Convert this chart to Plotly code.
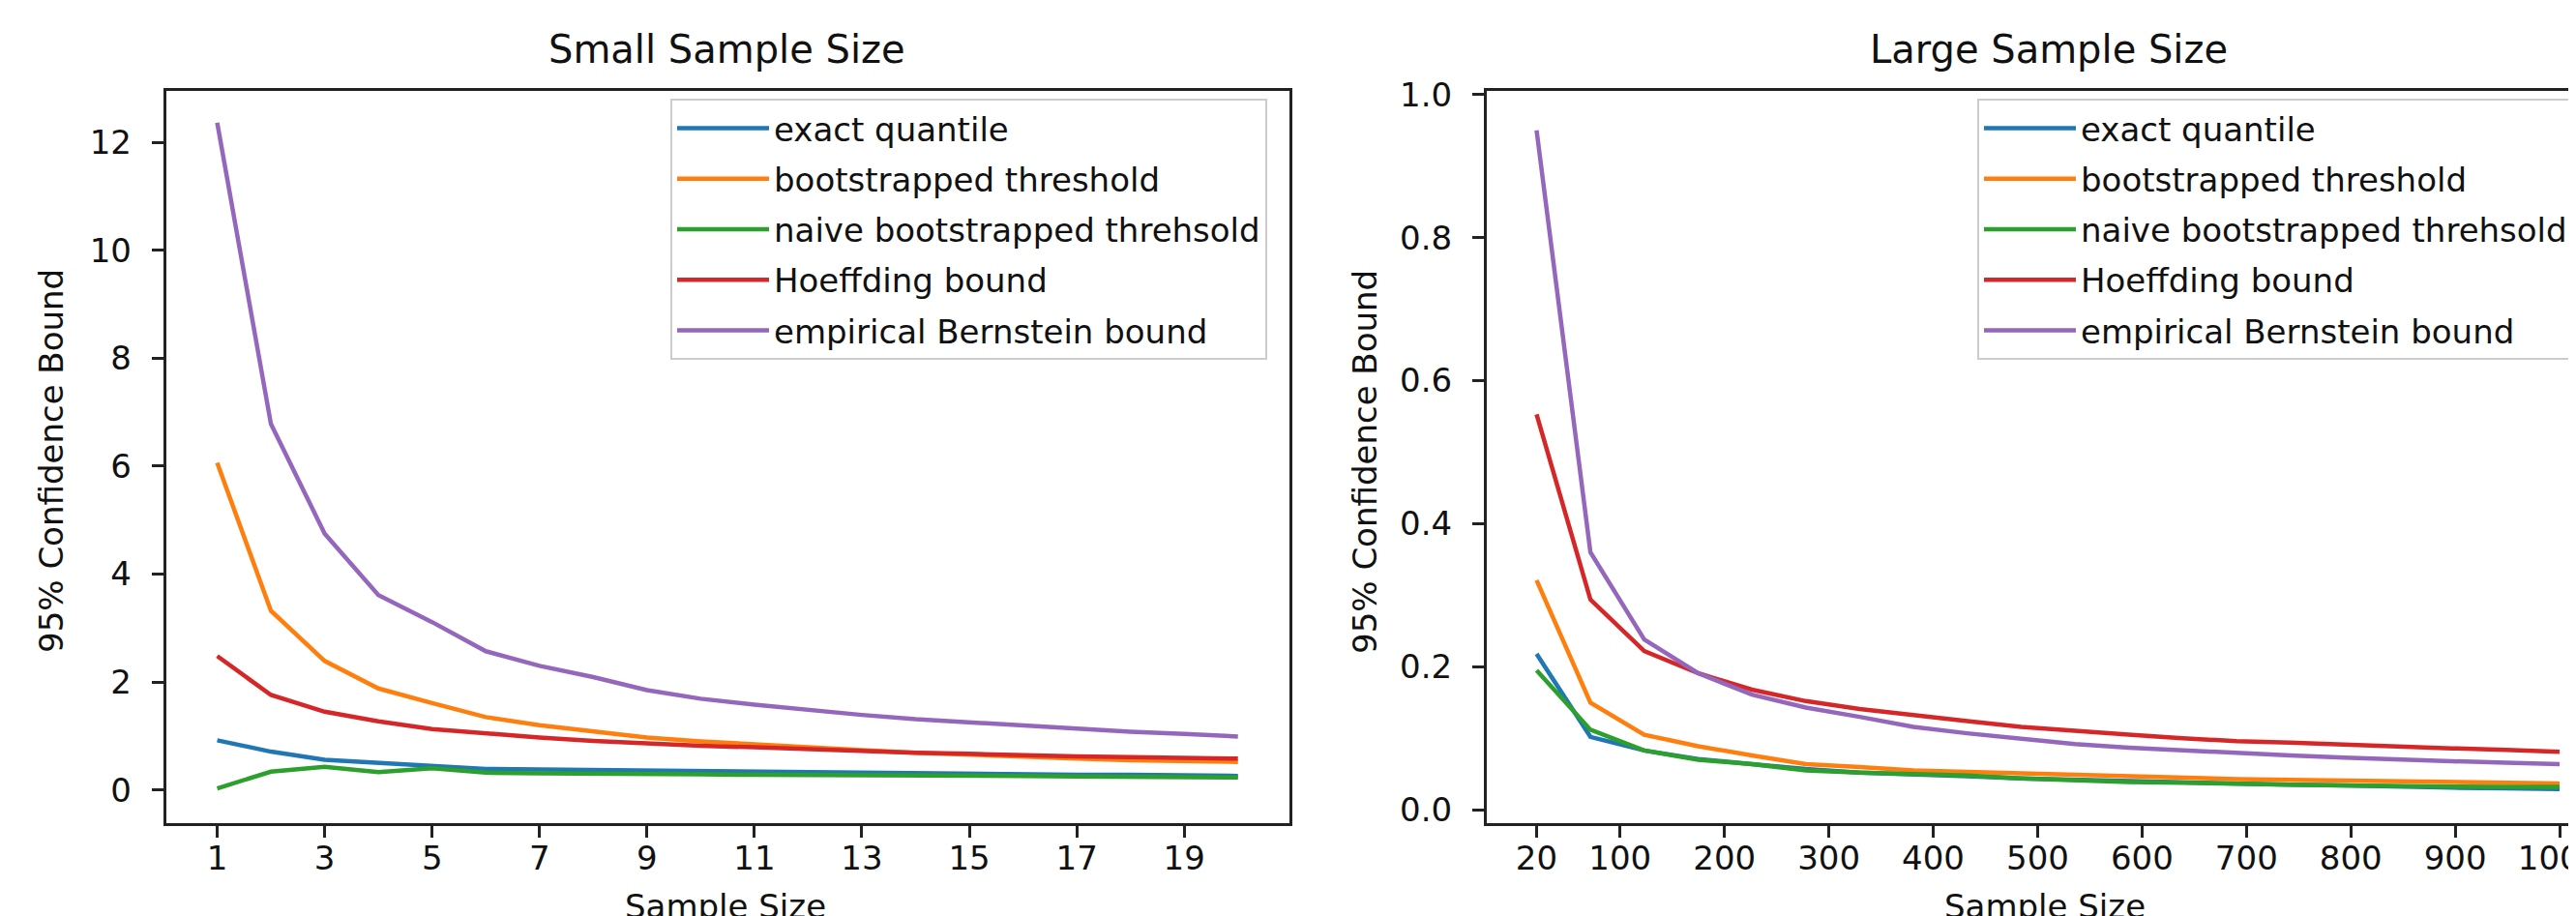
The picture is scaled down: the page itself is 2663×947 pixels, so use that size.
import plotly.graph_objects as go

# ---------------- data ----------------
series_names = [
    "exact quantile",
    "bootstrapped threshold",
    "naive bootstrapped threhsold",
    "Hoeffding bound",
    "empirical Bernstein bound",
]
series_colors = ["#1f77b4", "#ff7f0e", "#2ca02c", "#d62728", "#9467bd"]

small_n = [1, 2, 3, 4, 5, 6, 7, 8, 9, 10, 11, 12, 13, 14, 15, 16, 17, 18, 19, 20]
small_exact = [0.92, 0.71, 0.56, 0.51, 0.45, 0.39, 0.38, 0.37, 0.35, 0.34,
               0.33, 0.32, 0.31, 0.31, 0.30, 0.29, 0.28, 0.28, 0.27, 0.26]
small_boot = [6.06, 3.32, 2.39, 1.88, 1.61, 1.35, 1.20, 1.08, 0.97, 0.90,
              0.84, 0.79, 0.74, 0.69, 0.65, 0.61, 0.58, 0.55, 0.53, 0.52]
small_naive = [0.03, 0.34, 0.43, 0.33, 0.40, 0.32, 0.31, 0.31, 0.30, 0.29,
               0.28, 0.28, 0.27, 0.27, 0.26, 0.26, 0.25, 0.25, 0.24, 0.23]
small_hoeff = [2.48, 1.76, 1.45, 1.27, 1.13, 1.04, 0.97, 0.91, 0.86, 0.82,
               0.79, 0.75, 0.72, 0.69, 0.67, 0.64, 0.62, 0.61, 0.59, 0.58]
small_bern = [12.36, 6.78, 4.75, 3.61, 3.11, 2.57, 2.30, 2.09, 1.85, 1.69,
              1.58, 1.48, 1.39, 1.31, 1.25, 1.19, 1.13, 1.08, 1.04, 0.99]

large_n = [20, 71.58, 123.16, 174.74, 226.32, 277.89, 329.47, 381.05, 432.63, 484.21,
           535.79, 587.37, 638.95, 690.53, 742.11, 793.68, 845.26, 896.84, 948.42, 1000]
large_exact = [0.218, 0.102, 0.083, 0.071, 0.064, 0.057, 0.052, 0.050, 0.047, 0.044,
               0.042, 0.040, 0.038, 0.036, 0.035, 0.034, 0.032, 0.031, 0.030, 0.029]
large_boot = [0.321, 0.150, 0.105, 0.089, 0.076, 0.064, 0.060, 0.055, 0.053, 0.051,
              0.048, 0.046, 0.045, 0.043, 0.042, 0.041, 0.040, 0.039, 0.038, 0.037]
large_naive = [0.195, 0.112, 0.083, 0.070, 0.064, 0.055, 0.052, 0.050, 0.048, 0.044,
               0.041, 0.039, 0.038, 0.036, 0.035, 0.034, 0.033, 0.033, 0.032, 0.032]
large_hoeff = [0.553, 0.294, 0.222, 0.191, 0.168, 0.152, 0.141, 0.132, 0.124, 0.116,
               0.110, 0.105, 0.100, 0.096, 0.094, 0.091, 0.088, 0.086, 0.084, 0.081]
large_bern = [0.950, 0.360, 0.238, 0.191, 0.161, 0.143, 0.130, 0.116, 0.107, 0.099,
              0.092, 0.087, 0.083, 0.079, 0.076, 0.073, 0.070, 0.068, 0.066, 0.064]

small_xticks = [1, 3, 5, 7, 9, 11, 13, 15, 17, 19]
small_yticks = [0, 2, 4, 6, 8, 10, 12]
large_xticks = [20, 100, 200, 300, 400, 500, 600, 700, 800, 900, 1000]
large_yticks = [0.0, 0.2, 0.4, 0.6, 0.8, 1.0]

titles = ["Small Sample Size", "Large Sample Size"]
x_label = "Sample Size"
y_label = "95% Confidence Bound"

# ---------------- figure ----------------
W, H = 2663, 947
FONT = "DejaVu Sans"
fig = go.Figure()

small_series = [small_exact, small_boot, small_naive, small_hoeff, small_bern]
large_series = [large_exact, large_boot, large_naive, large_hoeff, large_bern]

for i, (name, col) in enumerate(zip(series_names, series_colors)):
    fig.add_trace(go.Scatter(
        x=small_n, y=small_series[i], mode="lines", name=name,
        line=dict(color=col, width=4.5), xaxis="x", yaxis="y",
        legend="legend", legendgroup="s%d" % i,
    ))
for i, (name, col) in enumerate(zip(series_names, series_colors)):
    fig.add_trace(go.Scatter(
        x=large_n, y=large_series[i], mode="lines", name=name,
        line=dict(color=col, width=4.5), xaxis="x2", yaxis="y2",
        legend="legend2", legendgroup="l%d" % i,
    ))

def px_x(p):
    return p / W

def px_y(p):
    return 1 - p / H

ydom = [px_y(843.3), px_y(86)]
axis_common = dict(
    showline=True, linecolor="#222222", linewidth=3,
    ticks="outside", ticklen=12, tickwidth=2.7, tickcolor="#222222",
    showgrid=False, zeroline=False, automargin=False,
    ticklabeloverflow="allow",
    tickfont=dict(family=FONT, size=34, color="#111111"),
)
xaxis_extra = dict(ticklabelstandoff=-8)
yaxis_extra = dict(ticklabelstandoff=14)

legend_common = dict(
    yanchor="top", y=px_y(94),
    bgcolor="white", bordercolor="#cccccc", borderwidth=2,
    font=dict(family=FONT, size=34, color="#111111"),
    traceorder="grouped", tracegroupgap=5, itemwidth=95,
)

fig.update_layout(
    width=W, height=H,
    margin=dict(l=0, r=0, t=0, b=0, autoexpand=False),
    paper_bgcolor="white", plot_bgcolor="white",
    font=dict(family=FONT, size=34, color="#111111"),
    xaxis=dict(domain=[px_x(163.8), px_x(1324.5)], range=[0.05, 20.95],
               tickvals=small_xticks, mirror=True, anchor="y",
               **axis_common, **xaxis_extra),
    yaxis=dict(domain=ydom, range=[-0.62, 12.95], tickvals=small_yticks,
               mirror=True, anchor="x", **axis_common, **yaxis_extra),
    xaxis2=dict(domain=[px_x(1529), 1.0], range=[-27.7, 1023.1],
                tickvals=large_xticks, mirror=True, anchor="y2",
                **axis_common, **xaxis_extra),
    yaxis2=dict(domain=ydom, range=[-0.019, 1.005], tickvals=large_yticks,
                tickformat=".1f", mirror=False, anchor="x2",
                **axis_common, **yaxis_extra),
    legend=dict(x=px_x(1302), xanchor="right", **legend_common),
    legend2=dict(x=px_x(2036), xanchor="left", **legend_common),
    showlegend=True,
)

annotations = [
    dict(text=titles[0], x=px_x(743), y=px_y(43), xref="paper", yref="paper",
         xanchor="center", yanchor="middle", showarrow=False,
         font=dict(family=FONT, size=40, color="#111111")),
    dict(text=titles[1], x=px_x(2110), y=px_y(43), xref="paper", yref="paper",
         xanchor="center", yanchor="middle", showarrow=False,
         font=dict(family=FONT, size=40, color="#111111")),
    dict(text=x_label, x=px_x(742), y=px_y(907), xref="paper", yref="paper",
         xanchor="center", yanchor="top", showarrow=False,
         font=dict(family=FONT, size=34, color="#111111")),
    dict(text=x_label, x=px_x(2106), y=px_y(907), xref="paper", yref="paper",
         xanchor="center", yanchor="top", showarrow=False,
         font=dict(family=FONT, size=34, color="#111111")),
    dict(text=y_label, x=px_x(45), y=px_y(469), xref="paper", yref="paper",
         xanchor="center", yanchor="middle", showarrow=False, textangle=-90,
         font=dict(family=FONT, size=34, color="#111111")),
    dict(text=y_label, x=px_x(1403), y=px_y(469), xref="paper", yref="paper",
         xanchor="center", yanchor="middle", showarrow=False, textangle=-90,
         font=dict(family=FONT, size=34, color="#111111")),
]
fig.update_layout(annotations=annotations)

fig.write_html("out.html")
